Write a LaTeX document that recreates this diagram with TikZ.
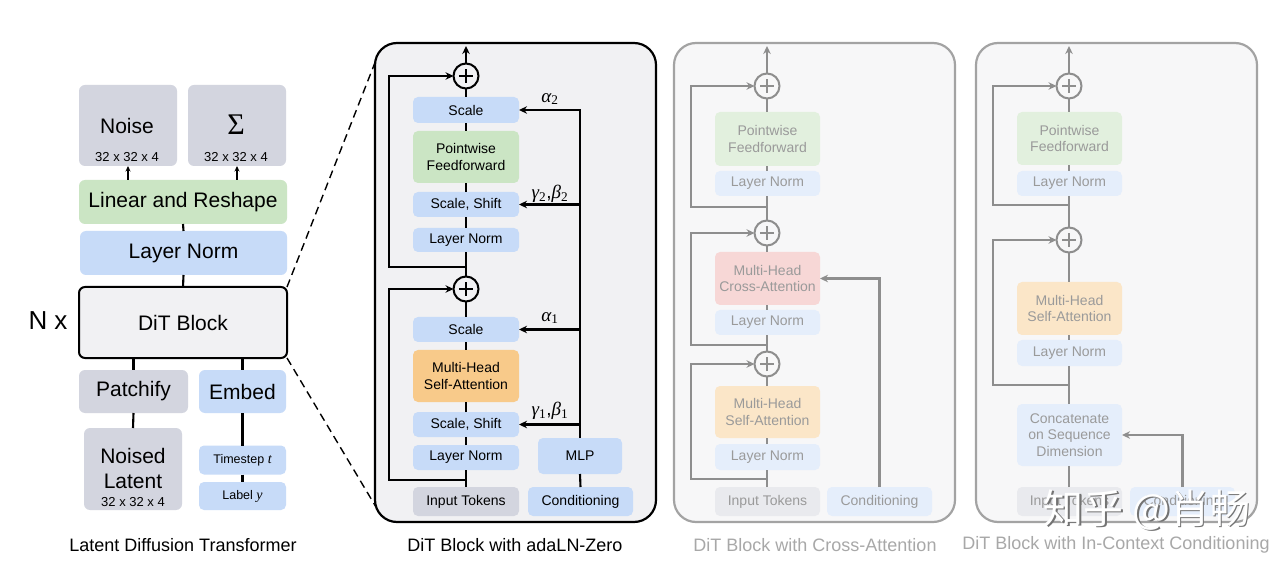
\documentclass[tikz,border=0pt]{standalone}
\usepackage{fontspec}
\setmainfont{Liberation Sans}
\newfontfamily\cjk{Noto Sans CJK SC}
\newfontfamily\gk{Liberation Serif}
\newcommand{\gsym}[2]{{\gk\itshape #1}\textsubscript{\gk #2}}
\usetikzlibrary{arrows.meta}
\definecolor{gbox}{HTML}{D3D5DF}
\definecolor{bbox}{HTML}{C7DBF8}
\definecolor{grbox}{HTML}{CBE5C4}
\definecolor{obox}{HTML}{F8CA8A}
\definecolor{pfill}{HTML}{F1F1F3}
\definecolor{fpanel}{HTML}{F7F7F8}
\definecolor{fborder}{HTML}{A3A3A3}
\definecolor{fline}{HTML}{8E8E8E}
\definecolor{ftext}{HTML}{9A9A9A}
\definecolor{fg}{HTML}{E9EAEE}
\definecolor{fb}{HTML}{E5EEFB}
\definecolor{fgr}{HTML}{E2F0DE}
\definecolor{fo}{HTML}{FBE6C8}
\definecolor{fr}{HTML}{F7D7D6}
\definecolor{capgray}{HTML}{A8A8A8}
\begin{document}
\begin{tikzpicture}[x=1pt,y=-1pt,
  every node/.style={inner sep=0pt, outer sep=0pt},
  sz/.style 2 args={minimum width=#1, minimum height=#2},
  bx/.style={rectangle, rounded corners=5pt, align=center, font=\fontsize{14}{16.5}\selectfont},
  big/.style={rectangle, rounded corners=6pt, align=center, font=\fontsize{21}{24}\selectfont},
  fbx/.style={bx, text=ftext},
  ln/.style={line width=2.1pt, draw=black},
  fln/.style={line width=2.1pt, draw=fline},
  arr/.style={-{Stealth[length=8pt,width=7.5pt]}},
  smallarr/.style={line width=1.6pt, -{Stealth[length=5.5pt,width=5pt]}},
  dsh/.style={line width=1.4pt, dash pattern=on 8pt off 5pt},
  panel/.style={rectangle, rounded corners=22pt, draw=black, line width=2.2pt, fill=pfill},
  fpanelst/.style={rectangle, rounded corners=22pt, draw=fborder, line width=2.2pt, fill=fpanel},
  plus/.style={circle, draw=#1, line width=2pt, minimum size=25pt,
    path picture={\draw[#1, line width=1.6pt] ([xshift=-7pt]path picture bounding box.center) -- ([xshift=7pt]path picture bounding box.center) ([yshift=-7pt]path picture bounding box.center) -- ([yshift=7pt]path picture bounding box.center);}},
  captxt/.style={font=\fontsize{18}{18}\selectfont},
  lab/.style={font=\fontsize{19}{19}\selectfont},
  dim/.style={font=\fontsize{13}{13}\selectfont}
]
\useasboundingbox[fill=white] (0,0) rectangle (1280,561);

% ---------------- left panel ----------------
\node[big, fill=gbox, sz={98}{81}] (noise) at (128,125.5) {};
\node[font=\fontsize{21}{21}\selectfont] (noiseT) at (127,126) {Noise};
\node[dim] (noiseD) at (127,157) {32 x 32 x 4};
\node[big, fill=gbox, sz={98}{81}] (sigma) at (237,125.5) {};
\node[font=\gk\fontsize{30}{30}\selectfont] (sigmaT) at (236,125) {Σ};
\node[dim] (sigmaD) at (236,157) {32 x 32 x 4};
\node[big, fill=grbox, sz={208}{44}] (lin) at (183,202) {Linear and Reshape};
\node[big, fill=bbox, sz={207}{44}] (lnL) at (183.5,253) {Layer Norm};
\node[big, fill=pfill, draw=black, line width=2pt, sz={208}{71}] (dit) at (183,322.5) {DiT Block};
\node[font=\fontsize{26}{26}\selectfont] (nx) at (48,321) {N x};
\node[big, fill=gbox, sz={109}{43}] (patch) at (133.5,391.5) {Patchify};
\node[big, fill=bbox, sz={87}{43}] (embed) at (242.5,391.5) {Embed};
\node[big, fill=gbox, sz={98}{82}] (nl) at (133,469) {};
\node[font=\fontsize{21}{21}\selectfont] (nlA) at (133,456) {Noised};
\node[font=\fontsize{21}{21}\selectfont] (nlB) at (133,481) {Latent};
\node[dim] (nlC) at (133,502) {32 x 32 x 4};
\node[bx, fill=bbox, sz={87}{29}, font=\fontsize{12.5}{13}\selectfont] (ts) at (242.5,460) {Timestep {\gk\itshape\fontsize{14}{14}\selectfont t}};
\node[bx, fill=bbox, sz={87}{28}, font=\fontsize{12.5}{13}\selectfont] (lb) at (242.5,496) {Label {\gk\itshape\fontsize{14}{14}\selectfont y}};

\draw[smallarr] (lin.north -| noise) -- (noise.south);
\draw[smallarr] (lin.north -| sigma) -- (sigma.south);
\draw[ln] (lin.south) -- (lnL.north);
\draw[ln] (lnL.south) -- (dit.north);
\draw[ln] (dit.south -| patch) -- (patch.north);
\draw[ln] (dit.south -| embed) -- (embed.north);
\draw[ln] (patch.south) -- (nl.north);
\draw[ln] (embed.south) -- (ts.north);
\draw[ln] (ts.south) -- (lb.north);
\node[captxt] (capL) at (183,545) {Latent Diffusion Transformer};

\coordinate (zt) at (376,60);
\coordinate (zb) at (376,507);
\draw[dsh] (dit.north east) -- (zt);
\draw[dsh] (dit.south east) -- (zb);

% ---------------- panel 2: adaLN-Zero ----------------
\node[panel, sz={281}{479}] (p2) at (515.5,282.5) {};
\node[plus=black] (pA) at (466,76) {};
\node[plus=black] (pB) at (466,289) {};
\node[bx, fill=bbox, sz={106}{26}] (s2) at (466,110) {Scale};
\node[bx, fill=grbox, sz={106}{52}] (pff) at (466,157) {Pointwise\\Feedforward};
\node[bx, fill=bbox, sz={106}{25}] (ss2) at (466,204.5) {Scale, Shift};
\node[bx, fill=bbox, sz={106}{24}] (ln2) at (466,240) {Layer Norm};
\node[bx, fill=bbox, sz={106}{25}] (s1) at (466,329.5) {Scale};
\node[bx, fill=obox, sz={106}{52}] (mhsa) at (466,376) {Multi-Head\\Self-Attention};
\node[bx, fill=bbox, sz={106}{25}] (ss1) at (466,424.5) {Scale, Shift};
\node[bx, fill=bbox, sz={106}{25}] (ln1) at (466,457.5) {Layer Norm};
\node[bx, fill=gbox, sz={106}{29}] (in2) at (466,501.5) {Input Tokens};
\node[bx, fill=bbox, sz={105}{29}] (cond2) at (580.5,501.5) {Conditioning};
\node[bx, fill=bbox, sz={84}{36}] (mlp) at (580,456) {MLP};

\coordinate (o2) at (466,46);
\draw[ln, arr] (pA.north) -- (o2);
\draw[ln] (s2.north) -- (pA.south);
\draw[ln] (pff.north) -- (s2.south);
\draw[ln] (ss2.north) -- (pff.south);
\draw[ln] (ln2.north) -- (ss2.south);
\draw[ln] (pB.north) -- (ln2.south);
\coordinate (r2) at (466,267);
\coordinate (L2) at (389,76);
\draw[ln, arr] (r2) -| (L2) -- (pA.west);
\draw[ln] (s1.north) -- (pB.south);
\draw[ln] (mhsa.north) -- (s1.south);
\draw[ln] (ss1.north) -- (mhsa.south);
\draw[ln] (ln1.north) -- (ss1.south);
\draw[ln] (in2.north) -- (ln1.south);
\coordinate (r1) at (466,480);
\coordinate (L1) at (389,289);
\draw[ln, arr] (r1) -| (L1) -- (pB.west);
\draw[ln] (cond2.north) -- (mlp.south);
\draw[ln, arr] (mlp.north) -- (mlp.north |- s2.east) -- (s2.east);
\draw[ln, arr] (mlp.north |- ss2.east) -- (ss2.east);
\draw[ln, arr] (mlp.north |- s1.east) -- (s1.east);
\draw[ln, arr] (mlp.north |- ss1.east) -- (ss1.east);
\node[lab] (a2) at (550,99) {\gsym{α}{2}};
\node[lab] (gb2) at (550,194) {\gsym{γ}{2},\gsym{β}{2}};
\node[lab] (a1) at (550,318) {\gsym{α}{1}};
\node[lab] (gb1) at (550,411) {\gsym{γ}{1},\gsym{β}{1}};
\node[captxt] (cap2) at (515,545) {DiT Block with adaLN-Zero};

% ---------------- panel 3: cross-attention ----------------
\node[fpanelst, sz={281}{479}] (p3) at (814.5,282.5) {};
\node[plus=fline] (qA) at (767,86) {};
\node[plus=fline] (qB) at (767,233) {};
\node[plus=fline] (qC) at (767,364) {};
\node[fbx, fill=fgr, sz={105}{54}] (pff3) at (767.5,139) {Pointwise\\Feedforward};
\node[fbx, fill=fb, sz={105}{25}] (ln3a) at (767.5,183.5) {Layer Norm};
\node[fbx, fill=fr, sz={105}{53}] (xa3) at (767.5,278.5) {Multi-Head\\Cross-Attention};
\node[fbx, fill=fb, sz={105}{25}] (ln3b) at (767.5,322.5) {Layer Norm};
\node[fbx, fill=fo, sz={105}{52}] (sa3) at (767.5,412) {Multi-Head\\Self-Attention};
\node[fbx, fill=fb, sz={105}{26}] (ln3c) at (767.5,457) {Layer Norm};
\node[fbx, fill=fg, sz={105}{29}] (in3) at (767.5,501.5) {Input Tokens};
\node[fbx, fill=fb, sz={105}{29}] (cond3) at (879.5,501.5) {Conditioning};

\coordinate (o3) at (767,46);
\draw[fln, arr] (qA.north) -- (o3);
\draw[fln] (pff3.north -| qA) -- (qA.south);
\draw[fln] (ln3a.north -| qA) -- (pff3.south -| qA);
\draw[fln] (qB.north) -- (ln3a.south -| qA);
\draw[fln] (xa3.north -| qB) -- (qB.south);
\draw[fln] (ln3b.north -| qB) -- (xa3.south -| qB);
\draw[fln] (qC.north) -- (ln3b.south -| qB);
\draw[fln] (sa3.north -| qC) -- (qC.south);
\draw[fln] (ln3c.north -| qC) -- (sa3.south -| qC);
\draw[fln] (in3.north -| qC) -- (ln3c.south -| qC);
\coordinate (t1) at (767,207);
\coordinate (M1) at (691,86);
\draw[fln, arr] (t1) -| (M1) -- (qA.west);
\coordinate (t2) at (767,345);
\coordinate (M2) at (691,233);
\draw[fln, arr] (t2) -| (M2) -- (qB.west);
\coordinate (t3) at (767,479);
\coordinate (M3) at (691,364);
\draw[fln, arr] (t3) -| (M3) -- (qC.west);
\draw[fln, arr] (cond3.north) |- (xa3.east);
\node[captxt, text=capgray] (cap3) at (815,545) {DiT Block with Cross-Attention};

% ---------------- panel 4: in-context ----------------
\node[fpanelst, sz={281}{479}] (p4) at (1116.5,282.5) {};
\node[plus=fline] (uA) at (1069,86) {};
\node[plus=fline] (uB) at (1069,240) {};
\node[fbx, fill=fgr, sz={105}{53}] (pff4) at (1069.5,138.5) {Pointwise\\Feedforward};
\node[fbx, fill=fb, sz={105}{25}] (ln4a) at (1069.5,183.5) {Layer Norm};
\node[fbx, fill=fo, sz={105}{53}] (sa4) at (1069.5,308.5) {Multi-Head\\Self-Attention};
\node[fbx, fill=fb, sz={105}{26}] (ln4b) at (1069.5,353) {Layer Norm};
\node[fbx, fill=fb, sz={105}{62}] (cc4) at (1069.5,435) {Concatenate\\on Sequence\\Dimension};
\node[fbx, fill=fg, sz={105}{29}] (in4) at (1069.5,501.5) {Input Tokens};
\node[fbx, fill=fb, sz={105}{29}] (cond4) at (1182.5,501.5) {Conditioning};

\coordinate (o4) at (1069,46);
\draw[fln, arr] (uA.north) -- (o4);
\draw[fln] (pff4.north -| uA) -- (uA.south);
\draw[fln] (ln4a.north -| uA) -- (pff4.south -| uA);
\draw[fln] (uB.north) -- (ln4a.south -| uA);
\draw[fln] (sa4.north -| uB) -- (uB.south);
\draw[fln] (ln4b.north -| uB) -- (sa4.south -| uB);
\draw[fln] (cc4.north -| uB) -- (ln4b.south -| uB);
\draw[fln] (in4.north -| uB) -- (cc4.south -| uB);
\coordinate (v1) at (1069,205);
\coordinate (N1) at (993,86);
\draw[fln, arr] (v1) -| (N1) -- (uA.west);
\coordinate (v2) at (1069,385);
\coordinate (N2) at (993,240);
\draw[fln, arr] (v2) -| (N2) -- (uB.west);
\draw[fln, arr] (cond4.north) |- (cc4.east);
\node[captxt, text=capgray] (cap4) at (1116,545) {DiT Block with In-Context Conditioning};

% ---------------- watermark ----------------
\node[font=\cjk\fontsize{40}{40}\selectfont, text=black!55] (wmS) at (1148.5,511.5) {知乎 @肖畅};
\node[font=\cjk\fontsize{40}{40}\selectfont, text=white] (wm) at (1147,510) {知乎 @肖畅};
\end{tikzpicture}
\end{document}
